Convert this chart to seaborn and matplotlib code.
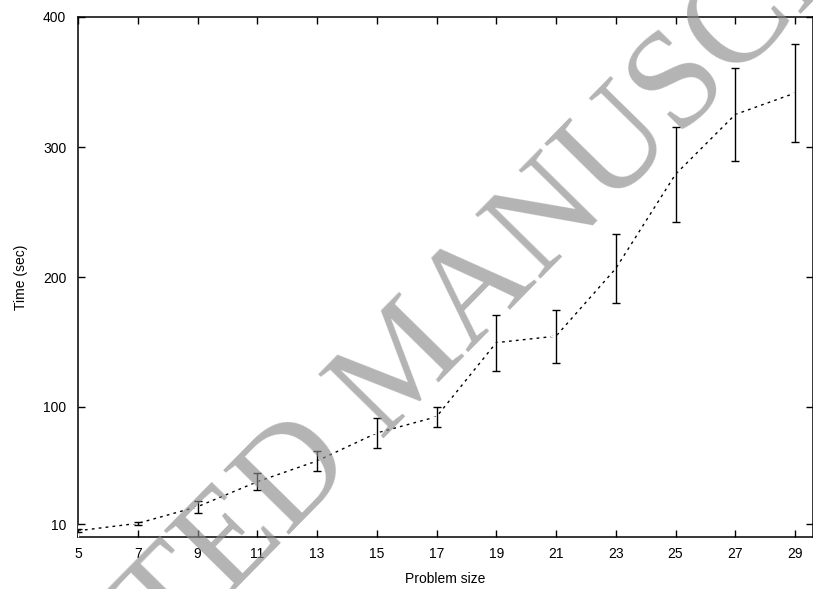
import matplotlib
matplotlib.use("Agg")
import matplotlib.pyplot as plt
import seaborn as sns
import pandas as pd

sizes = [5, 7, 9, 11, 13, 15, 17, 19, 21, 23, 25, 27, 29]
times = [4.8, 10.5, 23.3, 42.5, 58.5, 80.0, 92.5, 149.5, 154.5, 206.5, 279.0, 325.0, 341.5]
errors = [1.0, 1.0, 4.5, 6.5, 7.5, 11.5, 7.5, 21.5, 20.5, 26.5, 36.5, 36.0, 37.5]
xticks = [5, 7, 9, 11, 13, 15, 17, 19, 21, 23, 25, 27, 29]
yticks = [10, 100, 200, 300, 400]

df = pd.DataFrame({"size": sizes, "time": times, "err": errors})

sns.set_theme(style="white")
plt.rcParams["font.family"] = ["Liberation Sans", "DejaVu Sans"]

fig = plt.figure(figsize=(8.13, 5.89), dpi=100)
ax = fig.add_axes([78 / 813, 1 - 537 / 589, 1 - 78 / 813, (537 - 17) / 589])

sns.lineplot(data=df, x="size", y="time", ax=ax, color="black", linewidth=1.0,
             linestyle=(0, (2, 3)), marker="+", markersize=8, markeredgewidth=1.0,
             zorder=3)
ax.errorbar(df["size"], df["time"], yerr=df["err"], fmt="none", ecolor="black",
            elinewidth=1.0, capsize=2.6, capthick=1.0, zorder=3)

# watermark (drawn over the data, semi-transparent)
fig.text(0.502, 0.378, "ACCEPTED MANUSCRIPT", fontsize=100,
         family=["Liberation Serif", "DejaVu Serif"], fontweight="normal",
         color="#8b8b8b", alpha=0.65, rotation=45.5, ha="center", va="center",
         rotation_mode="anchor", zorder=10)

ax.set_xlim(5, 5 + (813 - 78) / 29.875)
ax.set_ylim(0, 400)
ax.set_xticks(xticks)
ax.set_yticks(yticks)
ax.set_xticklabels([str(v) for v in xticks])
ax.set_yticklabels([str(v) for v in yticks])
ax.tick_params(direction="in", length=5, width=1.0, colors="black", labelsize=10,
               top=True, right=True, bottom=True, left=True)
ax.tick_params(axis="y", pad=8.5)
ax.tick_params(axis="x", pad=7)
for s in ax.spines.values():
    s.set_color("black")
    s.set_linewidth(1.1)
    s.set_visible(True)

ax.set_xlabel("Problem size", fontsize=10, color="black", labelpad=8)
ax.set_ylabel("Time (sec)", fontsize=10, color="black", labelpad=11)

fig.savefig("out.png", dpi=100)
